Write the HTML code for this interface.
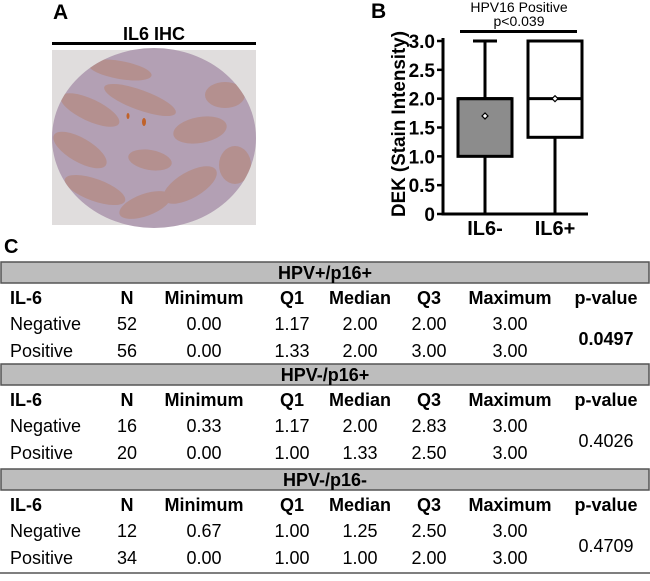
<!DOCTYPE html>
<html><head><meta charset="utf-8">
<style>
html,body{margin:0;padding:0;background:#fff;}
body{width:650px;height:576px;position:relative;overflow:hidden;font-family:"Liberation Sans Narrow","Liberation Sans",Arial,sans-serif;}
svg text{font-family:"Liberation Sans Narrow","Liberation Sans",Arial,sans-serif;}
</style></head>
<body>
<svg id="fig" width="650" height="576" viewBox="0 0 650 576" xmlns="http://www.w3.org/2000/svg">
  <defs><clipPath id="core"><ellipse cx="154" cy="138" rx="102" ry="90"/></clipPath></defs>
  <g>
    <text x="53" y="19" font-size="21" font-weight="bold">A</text>
    <text x="154" y="40" font-size="18" font-weight="bold" text-anchor="middle">IL6 IHC</text>
    <rect x="52" y="42" width="204" height="3" fill="#000"/>
    <g>
      <rect x="52" y="50" width="204" height="175" fill="#e0dddd"/>
      <ellipse cx="154" cy="138" rx="102" ry="90" fill="#b3a0b4"/>
      <g fill="#b48c86" opacity="0.8" clip-path="url(#core)">
        <ellipse cx="90" cy="110" rx="32" ry="11" transform="rotate(25 90 110)"/>
        <ellipse cx="80" cy="150" rx="30" ry="12" transform="rotate(30 80 150)"/>
        <ellipse cx="95" cy="190" rx="32" ry="11" transform="rotate(20 95 190)"/>
        <ellipse cx="140" cy="100" rx="38" ry="10" transform="rotate(20 140 100)"/>
        <ellipse cx="150" cy="160" rx="22" ry="10" transform="rotate(10 150 160)"/>
        <ellipse cx="200" cy="130" rx="27" ry="13" transform="rotate(-10 200 130)"/>
        <ellipse cx="190" cy="185" rx="30" ry="13" transform="rotate(-30 190 185)"/>
        <ellipse cx="145" cy="205" rx="27" ry="11" transform="rotate(-20 145 205)"/>
        <ellipse cx="225" cy="95" rx="20" ry="13"/>
        <ellipse cx="235" cy="165" rx="16" ry="19"/>
        <ellipse cx="120" cy="70" rx="32" ry="9" transform="rotate(10 120 70)"/>
        <ellipse cx="70" cy="210" rx="18" ry="8" transform="rotate(20 70 210)"/>
      </g>
      <ellipse cx="144" cy="122" rx="2" ry="4" fill="#c0622a"/>
      <ellipse cx="128" cy="116" rx="1.5" ry="3" fill="#c0622a"/>
    </g>
  </g>
  <g id="panelB">
    <text x="371" y="18" font-size="21" font-weight="bold">B</text>
    <text x="519" y="12" font-size="14" text-anchor="middle">HPV16 Positive</text>
    <text x="519" y="26" font-size="14" text-anchor="middle">p&lt;0.039</text>
    <rect x="460" y="30" width="117" height="3" fill="#000"/>
    <text transform="translate(405,124) rotate(-90)" font-size="19" font-weight="bold" text-anchor="middle" textLength="186" lengthAdjust="spacingAndGlyphs">DEK (Stain Intensity)</text>
    <g id="plot"></g>
  </g>
  <g id="panelC">
    <text x="4" y="253" font-size="20" font-weight="bold">C</text>
  </g>
</svg>
<script>
const categories = ["IL6-", "IL6+"];
const minVals = [0, 0];
const q1Vals = [1.0, 1.33];
const medianVals = [2.0, 2.0];
const q3Vals = [2.0, 3.0];
const maxVals = [3.0, 3.0];
const meanVals = [1.7, 2.0];
const boxFills = ["#8c8c8c", "#ffffff"];
const yTicks = [0, 0.5, 1.0, 1.5, 2.0, 2.5, 3.0];
const yTickLabels = ["0", "0.5", "1.0", "1.5", "2.0", "2.5", "3.0"];

const NS = "http://www.w3.org/2000/svg";
function mk(tag, attrs, parent){const e=document.createElementNS(NS,tag);for(const k in attrs)e.setAttribute(k,attrs[k]);parent.appendChild(e);return e;}
const plot = document.getElementById('plot');
const y0 = 214, y3 = 41, xAxis = 443, xEnd = 588;
function yS(v){return y0 - (v/3)*(y0-y3);}
function xS(i){return 485 + i*70;}
const boxW = 54;

const yAxis = mk('line',{x1:xAxis,y1:38,x2:xAxis,y2:y0+1.5,stroke:'#000','stroke-width':3},plot);


const xAx = mk('line',{x1:xAxis-1.5,y1:y0,x2:xEnd,y2:y0,stroke:'#000','stroke-width':3},plot);



yTicks.forEach((t,i)=>{
  const tk = mk('line',{x1:xAxis-6,y1:yS(t),x2:xAxis,y2:yS(t),stroke:'#000','stroke-width':2.5},plot);
  
  
  const lb = mk('text',{x:xAxis-8,y:yS(t)+7,'font-size':19,'font-weight':'bold','text-anchor':'end'},plot);
  lb.textContent = yTickLabels[i];
  
  
});

categories.forEach((c,i)=>{
  const cx = xS(i);
  const g = mk('g',{},plot);
  
  
  const wh = mk('line',{x1:cx,y1:yS(maxVals[i]),x2:cx,y2:yS(minVals[i]),stroke:'#000','stroke-width':3},g);
  
  
  const capT = mk('line',{x1:cx-12,y1:yS(maxVals[i]),x2:cx+12,y2:yS(maxVals[i]),stroke:'#000','stroke-width':3},g);
  
  
  const capB = mk('line',{x1:cx-12,y1:yS(minVals[i]),x2:cx+12,y2:yS(minVals[i]),stroke:'#000','stroke-width':3},g);
  
  
  const bx = mk('rect',{x:cx-boxW/2,y:yS(q3Vals[i]),width:boxW,height:yS(q1Vals[i])-yS(q3Vals[i]),fill:boxFills[i],stroke:'#000','stroke-width':3},g);
  
  
  const md = mk('line',{x1:cx-boxW/2,y1:yS(medianVals[i]),x2:cx+boxW/2,y2:yS(medianVals[i]),stroke:'#000','stroke-width':3},g);
  
  
  const my = yS(meanVals[i]);
  const mn = mk('path',{d:`M${cx} ${my-3} L${cx+3} ${my} L${cx} ${my+3} L${cx-3} ${my} Z`,fill:'#fff',stroke:'#000','stroke-width':1.2},g);
  
  
  const xl = mk('text',{x:cx,y:235,'font-size':20,'font-weight':'bold','text-anchor':'middle'},plot);
  xl.textContent = c;
  
  
});

const groups = ["HPV+/p16+", "HPV-/p16+", "HPV-/p16-"];
const headers = ["IL-6","N","Minimum","Q1","Median","Q3","Maximum","p-value"];
const rowsData = [
  [["Negative","52","0.00","1.17","2.00","2.00","3.00"],["Positive","56","0.00","1.33","2.00","3.00","3.00"]],
  [["Negative","16","0.33","1.17","2.00","2.83","3.00"],["Positive","20","0.00","1.00","1.33","2.50","3.00"]],
  [["Negative","12","0.67","1.00","1.25","2.50","3.00"],["Positive","34","0.00","1.00","1.00","2.00","3.00"]]
];
const pValues = ["0.0497","0.4026","0.4709"];
const pBold = [true,false,false];

const tbl = document.getElementById('panelC');
const colX = [10,127,204,292,360,429,510,606];
const bandTops = [262,364,469];
const rowOffs = [42,68,95];
groups.forEach((gname,gi)=>{
  const top = bandTops[gi];
  const band = mk('rect',{x:1,y:top,width:648,height:21,fill:'#bdbdbd',stroke:'#555','stroke-width':1.5},tbl);
  
  
  const bt = mk('text',{x:325,y:top+17,'font-size':18,'font-weight':'bold','text-anchor':'middle'},tbl);
  bt.textContent = gname;
  
  
  headers.forEach((h,ci)=>{
    const t = mk('text',{x:colX[ci],y:top+rowOffs[0],'font-size':18,'font-weight':'bold','text-anchor':ci===0?'start':'middle'},tbl);
    t.textContent = h;
    
    
  });
  rowsData[gi].forEach((row,ri)=>{
    row.forEach((v,ci)=>{
      const t = mk('text',{x:colX[ci],y:top+rowOffs[ri+1],'font-size':18,'text-anchor':ci===0?'start':'middle'},tbl);
      t.textContent = v;
      
      
    });
  });
  const pv = mk('text',{x:colX[7],y:top+83,'font-size':18,'font-weight':pBold[gi]?'bold':'normal','text-anchor':'middle'},tbl);
  pv.textContent = pValues[gi];
  
  
});
const bl = mk('line',{x1:0,y1:573,x2:650,y2:573,stroke:'#555','stroke-width':1.5},tbl);


</script>
</body></html>
